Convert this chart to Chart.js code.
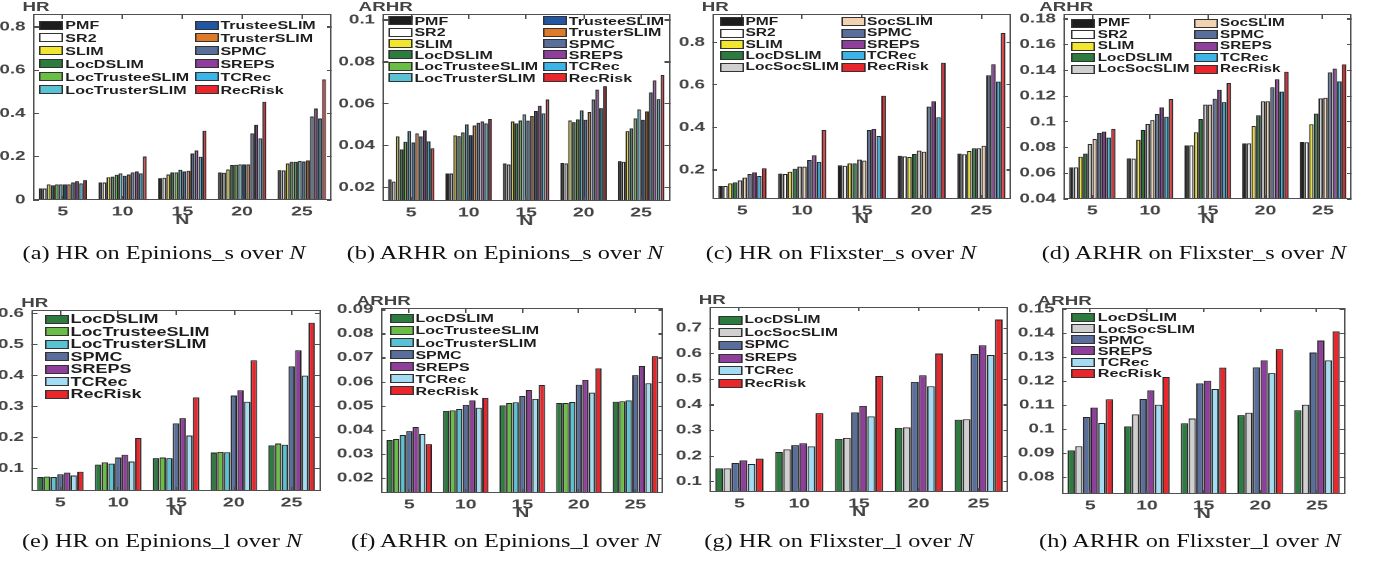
<!DOCTYPE html>
<html>
<head>
<meta charset="utf-8">
<script src="https://cdn.jsdelivr.net/npm/chart.js@4.4.1/dist/chart.umd.min.js"></script>
<style>
  body { margin: 0; background: #fff; width: 1379px; height: 568px; overflow: hidden; position: relative; }
  #fig { position: absolute; left: 0; top: 0; width: 920px; height: 568px; transform: scaleX(1.5); transform-origin: 0 0; }
  #fig canvas { position: absolute; }
  .frame { position: absolute; box-sizing: border-box; border-style: solid; border-color: #505050;
           border-width: 1.5px 1.2px; }
  .tick { position: absolute; background: #505050; }
  .item { position: absolute; height: 12px; line-height: 12px; display: flex; align-items: center; white-space: nowrap;
          font-family: "Liberation Sans", Arial, sans-serif; font-weight: bold; color: #1e1e1e; }
  .sw { display: inline-block; width: 16px; height: 9px; box-sizing: border-box; border: 1px solid #333; margin-right: 1.4px; }
  .ylab { position: absolute; height: 14px; line-height: 14px; transform: translateX(-50%); white-space: nowrap;
          font-family: "Liberation Sans", Arial, sans-serif; font-weight: bold; font-size: 12.5px; color: #444; }
  .cap { position: absolute; width: 400px; text-align: center; font-family: "Liberation Serif", "Times New Roman", serif;
         font-size: 18px; line-height: 18px; color: #111; transform: scaleX(1.35); white-space: nowrap; }
</style>
</head>
<body>
<div id="fig"></div>
<script>
///////////   DATA  /////////////////

const nValues = ["5", "10", "15", "20", "25"];

const methodsEpinionsS = ["PMF", "SR2", "SLIM", "LocDSLIM", "LocTrusteeSLIM", "LocTrusterSLIM",
                          "TrusteeSLIM", "TrusterSLIM", "SPMC", "SREPS", "TCRec", "RecRisk"];
const methodsFlixsterS = ["PMF", "SR2", "SLIM", "LocDSLIM", "LocSocSLIM", "SocSLIM",
                          "SPMC", "SREPS", "TCRec", "RecRisk"];
const methodsEpinionsL = ["LocDSLIM", "LocTrusteeSLIM", "LocTrusterSLIM", "SPMC", "SREPS", "TCRec", "RecRisk"];
const methodsFlixsterL = ["LocDSLIM", "LocSocSLIM", "SPMC", "SREPS", "TCRec", "RecRisk"];

// one row per method (same order as the method list), one column per N
const hrEpinionsS = [
  [0.054, 0.081, 0.101, 0.128, 0.138],
  [0.053, 0.081, 0.103, 0.126, 0.137],
  [0.072, 0.105, 0.118, 0.141, 0.169],
  [0.068, 0.108, 0.128, 0.162, 0.177],
  [0.072, 0.117, 0.128, 0.163, 0.177],
  [0.072, 0.123, 0.140, 0.165, 0.181],
  [0.072, 0.112, 0.132, 0.165, 0.178],
  [0.072, 0.118, 0.135, 0.165, 0.183],
  [0.081, 0.128, 0.215, 0.308, 0.386],
  [0.087, 0.132, 0.229, 0.348, 0.423],
  [0.077, 0.123, 0.200, 0.285, 0.377],
  [0.092, 0.201, 0.320, 0.454, 0.558]
];

const arhrEpinionsS = [
  [0.0240, 0.0268, 0.0316, 0.0318, 0.0327],
  [0.0229, 0.0268, 0.0311, 0.0316, 0.0324],
  [0.0445, 0.0450, 0.0516, 0.0521, 0.0470],
  [0.0383, 0.0446, 0.0507, 0.0513, 0.0483],
  [0.0419, 0.0464, 0.0521, 0.0526, 0.0531],
  [0.0470, 0.0502, 0.0550, 0.0569, 0.0574],
  [0.0416, 0.0451, 0.0520, 0.0524, 0.0524],
  [0.0459, 0.0497, 0.0543, 0.0561, 0.0564],
  [0.0445, 0.0510, 0.0566, 0.0621, 0.0655],
  [0.0473, 0.0516, 0.0591, 0.0668, 0.0712],
  [0.0421, 0.0507, 0.0555, 0.0580, 0.0623],
  [0.0388, 0.0528, 0.0621, 0.0685, 0.0738]
];

const hrFlixsterS = [
  [0.125, 0.183, 0.222, 0.267, 0.277],
  [0.125, 0.181, 0.220, 0.264, 0.274],
  [0.137, 0.192, 0.231, 0.261, 0.289],
  [0.142, 0.206, 0.231, 0.275, 0.302],
  [0.151, 0.216, 0.249, 0.291, 0.302],
  [0.164, 0.216, 0.244, 0.286, 0.314],
  [0.181, 0.247, 0.388, 0.498, 0.645],
  [0.189, 0.269, 0.393, 0.523, 0.697],
  [0.172, 0.238, 0.360, 0.448, 0.615],
  [0.208, 0.388, 0.549, 0.704, 0.844]
];

const arhrFlixsterS = [
  [0.0646, 0.0716, 0.0817, 0.0833, 0.0843],
  [0.0646, 0.0714, 0.0817, 0.0833, 0.0841],
  [0.0729, 0.0861, 0.0919, 0.0968, 0.0981],
  [0.0753, 0.0937, 0.1022, 0.1051, 0.1064],
  [0.0828, 0.0983, 0.1134, 0.1160, 0.1183],
  [0.0867, 0.1014, 0.1134, 0.1160, 0.1188],
  [0.0914, 0.1061, 0.1180, 0.1269, 0.1385],
  [0.0924, 0.1113, 0.1250, 0.1331, 0.1414],
  [0.0877, 0.1040, 0.1154, 0.1235, 0.1315],
  [0.0945, 0.1178, 0.1302, 0.1390, 0.1447]
];

const hrEpinionsL = [
  [0.072, 0.112, 0.133, 0.151, 0.174],
  [0.073, 0.119, 0.135, 0.153, 0.180],
  [0.072, 0.115, 0.133, 0.152, 0.176],
  [0.081, 0.135, 0.245, 0.335, 0.429],
  [0.086, 0.144, 0.262, 0.352, 0.481],
  [0.077, 0.122, 0.206, 0.315, 0.399],
  [0.089, 0.198, 0.329, 0.449, 0.570]
];

const arhrEpinionsL = [
  [0.0358, 0.0479, 0.0502, 0.0512, 0.0517],
  [0.0362, 0.0481, 0.0512, 0.0512, 0.0519],
  [0.0379, 0.0487, 0.0515, 0.0516, 0.0523],
  [0.0395, 0.0504, 0.0541, 0.0588, 0.0628],
  [0.0412, 0.0523, 0.0566, 0.0608, 0.0666],
  [0.0383, 0.0492, 0.0529, 0.0555, 0.0594],
  [0.0341, 0.0533, 0.0587, 0.0656, 0.0707]
];

const hrFlixsterL = [
  [0.151, 0.215, 0.266, 0.309, 0.341],
  [0.151, 0.225, 0.270, 0.311, 0.343],
  [0.172, 0.242, 0.370, 0.489, 0.598],
  [0.182, 0.249, 0.395, 0.515, 0.632],
  [0.168, 0.237, 0.354, 0.472, 0.594],
  [0.189, 0.367, 0.512, 0.600, 0.733]
];

const arhrFlixsterL = [
  [0.0911, 0.1011, 0.1024, 0.1058, 0.1078],
  [0.0928, 0.1061, 0.1044, 0.1068, 0.1101],
  [0.1050, 0.1125, 0.1190, 0.1257, 0.1319],
  [0.1089, 0.1161, 0.1201, 0.1286, 0.1369],
  [0.1025, 0.1101, 0.1167, 0.1233, 0.1286],
  [0.1124, 0.1217, 0.1256, 0.1333, 0.1407]
];

// y tick labels of each panel
const ticksA = [0, 0.2, 0.4, 0.6, 0.8];
const ticksB = [0.02, 0.04, 0.06, 0.08, 0.1];
const ticksC = [0.2, 0.4, 0.6, 0.8];
const ticksD = [0.04, 0.06, 0.08, 0.1, 0.12, 0.14, 0.16, 0.18];
const ticksE = [0.1, 0.2, 0.3, 0.4, 0.5, 0.6];
const ticksF = [0.02, 0.03, 0.04, 0.05, 0.06, 0.07, 0.08, 0.09];
const ticksG = [0.1, 0.2, 0.3, 0.4, 0.5, 0.6, 0.7];
const ticksH = [0.08, 0.09, 0.1, 0.11, 0.12, 0.13, 0.14, 0.15];


///////////   STYLE  /////////////////

const colorsTop = {
  PMF: "#1f1c1d", SR2: "#ffffff", SLIM: "#f2e62e", LocDSLIM: "#2b7c3e",
  LocTrusteeSLIM: "#6abd45", LocTrusterSLIM: "#5ac3d3", TrusteeSLIM: "#2256a5",
  TrusterSLIM: "#df7b28", SPMC: "#5a6e9c", SREPS: "#8f3f9b", TCRec: "#3bb5e8",
  RecRisk: "#e8262c", SocSLIM: "#f1d3b3", LocSocSLIM: "#d0d0d0"
};
const colorsBottom = Object.assign({}, colorsTop, { TCRec: "#a4ddf3" });

const S = 1.5;     // horizontal stretch of the whole figure
const XH = 28;     // height kept under each plot for N ticks + title
const YW = 30;     // width kept left of each plot for y ticks
const FONT = "Liberation Sans";
const TEXT_COLOR = "#444444";

// box = [left, top, right, bottom] of the plot area, in page pixels
const panels = [
  { methods: methodsEpinionsS, values: hrEpinionsS, colors: colorsTop, ticks: ticksA, min: 0, max: 0.86,
    box: [33, 14, 331.7, 200], label: "HR",
    legend: { x1: 39.3, x2: 194.3, y1: 25, dy: 12.9, rows: 6, font: 10.7 },
    caption: "(a) HR on Epinions_s over <i>N</i>", cap: [163.5, 259] },
  { methods: methodsEpinionsS, values: arhrEpinionsS, colors: colorsTop, ticks: ticksB, min: 0.01365, max: 0.1029,
    box: [382.7, 14, 670, 201], label: "ARHR",
    legend: { x1: 388.3, x2: 542.7, y1: 20.7, dy: 11.4, rows: 6, font: 10.7 },
    caption: "(b) ARHR on Epinions_s over <i>N</i>", cap: [504.5, 259] },
  { methods: methodsFlixsterS, values: hrFlixsterS, colors: colorsTop, ticks: ticksC, min: 0.0637, max: 0.933,
    box: [712.3, 14, 1011, 199], label: "HR",
    legend: { x1: 719.3, x2: 841, y1: 21.7, dy: 11.4, rows: 5, font: 10.4 },
    caption: "(c) HR on Flixster_s over <i>N</i>", cap: [841, 259] },
  { methods: methodsFlixsterS, values: arhrFlixsterS, colors: colorsTop, ticks: ticksD, min: 0.04, max: 0.1839,
    box: [1063.3, 14, 1351.7, 199], label: "ARHR",
    legend: { x1: 1071.7, x2: 1194, y1: 23.3, dy: 11.5, rows: 5, font: 10.2 },
    caption: "(d) ARHR on Flixster_s over <i>N</i>", cap: [1194, 259] },
  { methods: methodsEpinionsL, values: hrEpinionsL, colors: colorsBottom, ticks: ticksE, min: 0.0268, max: 0.611,
    box: [31.7, 310, 320.7, 491], label: "HR",
    legend: { x1: 44.3, y1: 319, dy: 12.5, rows: 7, font: 12 },
    caption: "(e) HR on Epinions_l over <i>N</i>", cap: [161.5, 547] },
  { methods: methodsEpinionsL, values: arhrEpinionsL, colors: colorsBottom, ticks: ticksF, min: 0.01376, max: 0.0907,
    box: [380.7, 308.3, 663.3, 493.3], label: "ARHR",
    legend: { x1: 389.3, y1: 318.3, dy: 12.1, rows: 7, font: 10.7 },
    caption: "(f) ARHR on Epinions_l over <i>N</i>", cap: [506, 547] },
  { methods: methodsFlixsterL, values: hrFlixsterL, colors: colorsBottom, ticks: ticksG, min: 0.0586, max: 0.784,
    box: [709.3, 306.7, 1008.3, 492.3], label: "HR",
    legend: { x1: 718.3, y1: 320, dy: 12.7, rows: 6, font: 10.4 },
    caption: "(g) HR on Flixster_l over <i>N</i>", cap: [839, 547] },
  { methods: methodsFlixsterL, values: arhrFlixsterL, colors: colorsBottom, ticks: ticksH, min: 0.0729, max: 0.1507,
    box: [1061.7, 307.7, 1345, 494.3], label: "ARHR",
    legend: { x1: 1071.7, y1: 317.3, dy: 11.2, rows: 6, font: 10.8 },
    caption: "(h) ARHR on Flixster_l over <i>N</i>", cap: [1190, 547] }
];


///////////   HELPERS  /////////////////

const fig = document.querySelector("#fig");

function addDiv(cls, left, top, width, height) {
  const d = document.createElement("div");
  d.className = cls;
  d.style.left = left + "px";
  d.style.top = top + "px";
  if (width !== undefined) d.style.width = width + "px";
  if (height !== undefined) d.style.height = height + "px";
  fig.appendChild(d);
  return d;
}


///////////   BUILD PANELS  /////////////////

function makePanel(p) {
  const [L, T, R, B] = p.box;
  const plotW = (R - L) / S;
  const w = Math.ceil(YW + plotW + 4);
  const h = Math.ceil(20 + (B - T) + XH);
  const padTop = h - XH - (B - T);
  const padRight = w - YW - plotW;
  const cLeft = L / S - YW;
  const cTop = T - padTop;

  const canvas = document.createElement("canvas");
  canvas.width = w;
  canvas.height = h;
  canvas.style.left = cLeft + "px";
  canvas.style.top = cTop + "px";
  fig.appendChild(canvas);

  const chart = new Chart(canvas, {
    type: "bar",
    data: {
      labels: nValues,
      datasets: p.methods.map((name, i) => ({
        label: name,
        data: p.values[i],
        backgroundColor: p.colors[name],
        borderColor: "#262626",
        borderWidth: 1,
        categoryPercentage: 0.81,
        barPercentage: 0.96
      }))
    },
    options: {
      responsive: false,
      animation: false,
      devicePixelRatio: 2,
      layout: { padding: { left: 0, top: padTop, right: padRight, bottom: 0 } },
      plugins: { legend: { display: false }, tooltip: { enabled: false } },
      scales: {
        x: {
          offset: true,
          grid: { display: false, drawTicks: false },
          border: { display: false },
          ticks: { color: TEXT_COLOR, font: { family: FONT, weight: "bold", size: 13 }, padding: 4, maxRotation: 0, autoSkip: false },
          title: { display: true, text: "N", color: TEXT_COLOR, font: { family: FONT, weight: "bold", size: 13 }, padding: 0 },
          afterFit: s => { s.height = XH; }
        },
        y: {
          min: p.min,
          max: p.max,
          grid: { display: false, drawTicks: false },
          border: { display: false },
          afterBuildTicks: s => { s.ticks = p.ticks.map(v => ({ value: v })); },
          ticks: { color: TEXT_COLOR, font: { family: FONT, weight: "bold", size: 12.5 }, padding: 5,
                   callback: v => String(+v.toFixed(4)) },
          afterFit: s => { s.width = YW; }
        }
      }
    }
  });

  // axes box with the inward tick marks, placed from the chart's own scales
  const a = chart.chartArea;
  const boxL = cLeft + a.left, boxT = cTop + a.top;
  const boxW = a.right - a.left, boxH = a.bottom - a.top;
  addDiv("frame", boxL, boxT, boxW, boxH);
  chart.scales.y.ticks.forEach(t => {
    const py = cTop + chart.scales.y.getPixelForValue(t.value) - 0.6;
    addDiv("tick", boxL, py, 3.5, 1.2);
    addDiv("tick", boxL + boxW - 3.5, py, 3.5, 1.2);
  });
  chart.scales.x.ticks.forEach((t, i) => {
    const px = cLeft + chart.scales.x.getPixelForTick(i) - 0.5;
    addDiv("tick", px, boxT, 1, 4.5);
    addDiv("tick", px, boxT + boxH - 4.5, 1, 4.5);
  });

  // name of the measure above the y axis
  const ylab = addDiv("ylab", (L + 3) / S, T - 14);
  ylab.textContent = p.label;

  // legend, drawn as html inside the plot
  p.methods.forEach((name, i) => {
    const col = Math.floor(i / p.legend.rows);
    const row = i % p.legend.rows;
    const item = addDiv("item", (col ? p.legend.x2 : p.legend.x1) / S, p.legend.y1 + row * p.legend.dy - 6);
    item.style.fontSize = p.legend.font + "px";
    item.innerHTML = '<span class="sw" style="background:' + p.colors[name] + '"></span>' + name;
  });

  // caption under the panel
  const cap = document.createElement("div");
  cap.className = "cap";
  cap.style.left = (p.cap[0] - 200) + "px";
  cap.style.top = (p.cap[1] - 15) + "px";
  cap.innerHTML = p.caption;
  document.body.appendChild(cap);
}

panels.forEach(makePanel);
</script>
</body>
</html>
